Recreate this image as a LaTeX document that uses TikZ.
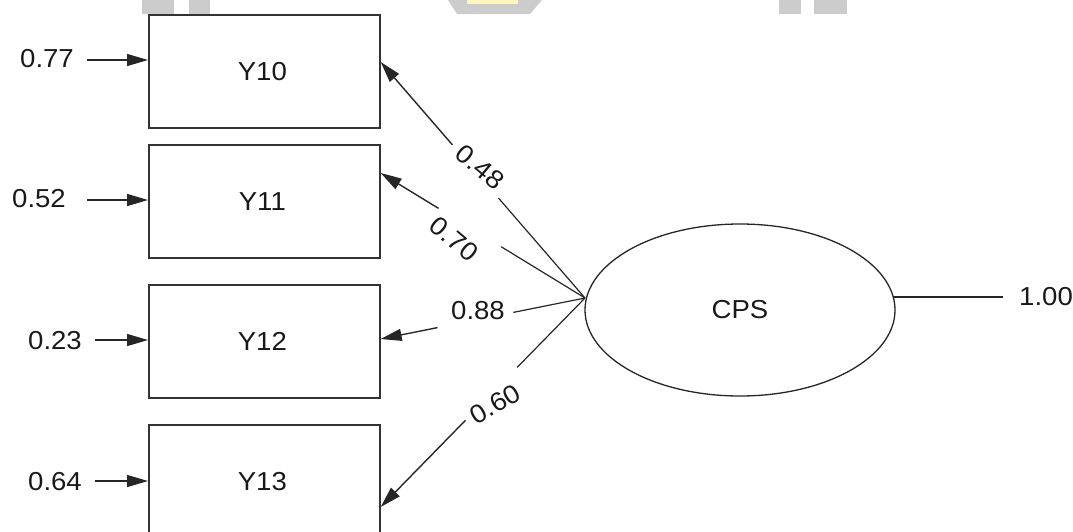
\documentclass[tikz,border=0pt]{standalone}
\usepackage{fontspec}
\setmainfont{Liberation Sans}
\usetikzlibrary{arrows.meta,shapes.geometric,calc}
% slightly widened lettering
\newcommand\widetxt[1]{\scalebox{1.06}[1]{#1}}
\definecolor{markgray}{RGB}{204,204,204}
\definecolor{markyellow}{RGB}{255,246,190}
\begin{document}
\begin{tikzpicture}[x=1pt,y=-1pt,
  every node/.style={font=\fontsize{26}{29}\selectfont, text=black!90},
  obs/.style={draw=black!80, line width=1.7pt, minimum width=231pt,
              minimum height=113pt, inner sep=0, anchor=north west},
  latent/.style={draw=black!85, ellipse, line width=1.3pt,
                 minimum width=310pt, minimum height=172pt, inner sep=0},
  arr/.style={draw=black!85, line width=1.4pt, -{Triangle[length=21pt,width=12pt]}},
  link/.style={draw=black!85, line width=1.2pt},
  lbl/.style={inner sep=0}]
\useasboundingbox (0,0) rectangle (1073,531);
\clip (0,0) rectangle (1073,531);

% faint header marks
\fill[markgray] (142,0) rectangle (174,14);
\fill[markgray] (189,0) rectangle (210,14);
\fill[markgray] (448,0) -- (542,0) -- (530,14) -- (457,14) -- cycle;
\fill[markyellow] (467,0) rectangle (518,4);
\fill[markgray] (779,0) rectangle (801,14);
\fill[markgray] (814,0) rectangle (847,14);

% observed indicators
\node[obs] (y10) at (148,14)  {\widetxt{Y10}\hspace*{4pt}};
\node[obs] (y11) at (148,144) {\widetxt{Y11}\hspace*{4pt}};
\node[obs] (y12) at (148,284) {\widetxt{Y12}\hspace*{4pt}};
\node[obs] (y13) at (148,424) {\widetxt{Y13}\hspace*{4pt}};

% error terms
\node[lbl] (e10) at (47,59)  {\widetxt{0.77}};
\node[lbl] (e11) at (39,199) {\widetxt{0.52}};
\node[lbl] (e12) at (55,341) {\widetxt{0.23}};
\node[lbl] (e13) at (55,482) {\widetxt{0.64}};
\coordinate (s10) at (87,60);
\coordinate (s11) at (87,200);
\coordinate (s12) at (95,340);
\coordinate (s13) at (95,481);
\draw[arr] (s10) -- (s10 -| y10.west);
\draw[arr] (s11) -- (s11 -| y11.west);
\draw[arr] (s12) -- (s12 -| y12.west);
\draw[arr] (s13) -- (s13 -| y13.west);

% latent factor
\node[latent] (cps) at (740,310) {\widetxt{CPS}};
\coordinate (p) at (585,298);

% loading targets on the indicator boxes
\coordinate (t10) at ($(y10.north east)+(0,48)$);
\coordinate (t11) at ($(y11.north east)+(0,29)$);
\coordinate (t12) at ($(y12.north east)+(0,55)$);
\coordinate (t13) at ($(y13.north east)+(0,83)$);

% loadings, each line broken around its value
\draw[link] (p) -- ($(p)!0.424!(t10)$);
\draw[arr]  ($(p)!0.649!(t10)$) -- (t10);
\draw[link] (p) -- ($(p)!0.41!(t11)$);
\draw[arr]  ($(p)!0.717!(t11)$) -- (t11);
\draw[link] (p) -- ($(p)!0.351!(t12)$);
\draw[arr]  ($(p)!0.722!(t12)$) -- (t12);
\draw[link] (p) -- ($(p)!0.332!(t13)$);
\draw[arr]  ($(p)!0.585!(t13)$) -- (t13);

\node[lbl, rotate=-40] (l10) at (480,167) {\widetxt{0.48}};
\node[lbl, rotate=-40] (l11) at (454,239) {\widetxt{0.70}};
\node[lbl]             (l12) at (478,311) {\widetxt{0.88}};
\node[lbl, rotate=30]  (l13) at (495,404) {\widetxt{0.60}};

% factor variance
\node[lbl, anchor=west] (var) at (1019,297) {\widetxt{1.00}};
\coordinate (r) at (893,297);
\draw[link] (r) -- ([xshift=-16pt]var.west);
\end{tikzpicture}
\end{document}
